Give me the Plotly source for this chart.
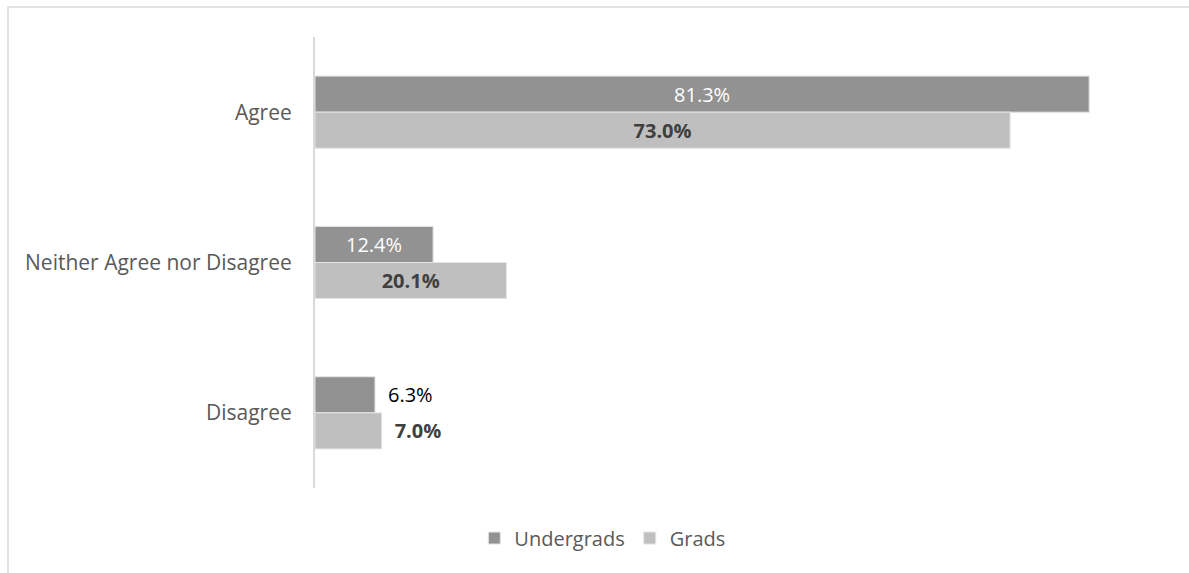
import plotly.graph_objects as go

categories = ["Agree", "Neither Agree nor Disagree", "Disagree"]
undergrads = [81.3, 12.4, 6.3]
grads = [73.0, 20.1, 7.0]
label_pos = ["inside", "inside", "outside"]

FONT = "Open Sans, Noto Sans, sans-serif"
LABEL_SIZE = 20
PAD = "\u2002"  # extra gap before labels sitting outside the bar


def labels(values, bold=False):
    out = []
    for v, pos in zip(values, label_pos):
        s = f"{v:.1f}%"
        if bold:
            s = f"<b>{s}</b>"
        out.append(PAD + s if pos == "outside" else s)
    return out


fig = go.Figure()
fig.add_trace(go.Bar(
    name="Undergrads", y=categories, x=undergrads, orientation="h",
    marker=dict(color="#929292", line=dict(color="#e4e4e4", width=1)),
    text=labels(undergrads), textposition=label_pos,
    insidetextanchor="middle", textangle=0, constraintext="none",
    insidetextfont=dict(color="white", size=LABEL_SIZE, family=FONT),
    outsidetextfont=dict(color="black", size=LABEL_SIZE, family=FONT),
    cliponaxis=False,
))
fig.add_trace(go.Bar(
    name="Grads", y=categories, x=grads, orientation="h",
    marker=dict(color="#bfbfbf", line=dict(color="#e4e4e4", width=1)),
    text=labels(grads, bold=True), textposition=label_pos,
    insidetextanchor="middle", textangle=0, constraintext="none",
    insidetextfont=dict(color="#404040", size=LABEL_SIZE, family=FONT),
    outsidetextfont=dict(color="#404040", size=LABEL_SIZE, family=FONT),
    cliponaxis=False,
))

fig.update_layout(
    width=1189, height=573,
    margin=dict(l=315, r=17, t=37, b=85, autoexpand=False),
    barmode="group", bargap=0.52, bargroupgap=0,
    plot_bgcolor="white", paper_bgcolor="white",
    font=dict(family=FONT, color="#595959", size=20),
    legend=dict(orientation="h", xref="container", yref="container",
                x=0.507, xanchor="center", y=0.061, yanchor="middle",
                font=dict(size=20, color="#595959"),
                traceorder="normal"),
    showlegend=True,
)
fig.update_xaxes(range=[0, 90], visible=False, showgrid=False, zeroline=False)
fig.update_yaxes(autorange="reversed", showline=True, linecolor="#d9d9d9", linewidth=2,
                 showgrid=False, ticks="", ticklabelstandoff=17,
                 tickfont=dict(size=21, color="#595959"))

# chart frame
fig.add_shape(type="rect", xref="paper", yref="paper",
              x0=-307 / 857, x1=1.2, y0=-0.3, y1=1 + 30 / 451,
              line=dict(color="#d9d9d9", width=1.5), fillcolor="rgba(0,0,0,0)", layer="below")

fig.write_html("out.html")
